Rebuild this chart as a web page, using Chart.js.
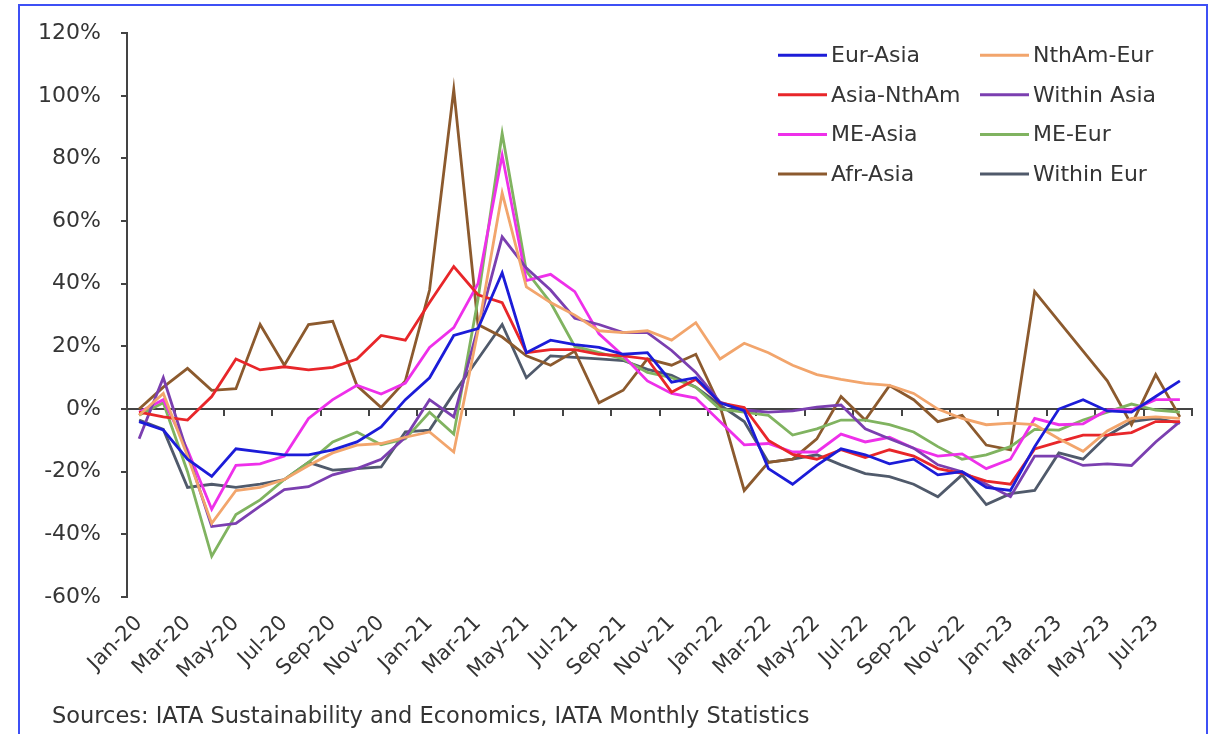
<!DOCTYPE html>
<html>
<head>
<meta charset="utf-8">
<script src="https://cdn.jsdelivr.net/npm/chart.js@4.4.1/dist/chart.umd.min.js"></script>
<style>
  html, body { margin: 0; padding: 0; background: #ffffff; }
  body { width: 1211px; height: 734px; position: relative; overflow: hidden; }
  #frame { position: absolute; left: 18px; top: 4px; width: 1190px; height: 760px; border: 2px solid #3e50f5; box-sizing: border-box; pointer-events: none; }
  #c { position: absolute; left: 0; top: 0; }
</style>
</head>
<body>
<canvas id="c" width="1211" height="734"></canvas>
<div id="frame"></div>
<script>
const months = ['Jan-20','Feb-20','Mar-20','Apr-20','May-20','Jun-20','Jul-20','Aug-20','Sep-20','Oct-20','Nov-20','Dec-20',
  'Jan-21','Feb-21','Mar-21','Apr-21','May-21','Jun-21','Jul-21','Aug-21','Sep-21','Oct-21','Nov-21','Dec-21',
  'Jan-22','Feb-22','Mar-22','Apr-22','May-22','Jun-22','Jul-22','Aug-22','Sep-22','Oct-22','Nov-22','Dec-22',
  'Jan-23','Feb-23','Mar-23','Apr-23','May-23','Jun-23','Jul-23','Aug-23'];

const seriesNames = ['Eur-Asia','NthAm-Eur','Asia-NthAm','Within Asia','ME-Asia','ME-Eur','Afr-Asia','Within Eur'];

const eurAsia = [-4, -6.7, -16, -21.5, -12.7, -13.7, -14.6, -14.6, -13, -10.5, -5.7, 3,
  10, 23.5, 25.7, 43.5, 18, 22, 20.6, 19.7, 17.5, 18, 8.6, 10,
  2, -0.5, -19, -24, -18, -12.7, -14.6, -17.5, -16, -21, -20, -25,
  -26, -12, 0, 3, -0.6, -1, 4, 9];
const nthAmEur = [-2, 5, -15, -36.5, -26, -25, -22.5, -18, -14, -11.5, -11, -9,
  -7.3, -13.7, 25, 69, 39, 34, 30, 25, 24.4, 25, 22, 27.6,
  16, 21, 18, 14, 11, 9.5, 8.2, 7.6, 5, 0, -3, -5,
  -4.5, -5, -9.5, -13.5, -7, -3, -2.5, -3];
const asiaNthAm = [-1, -2.5, -3.5, 4, 16, 12.5, 13.5, 12.5, 13.3, 16, 23.5, 22,
  34, 45.5, 36.5, 34, 18, 19, 19, 17.5, 17, 16, 5.4, 9.5,
  2, 0.5, -10, -14.5, -16, -13, -15.5, -13, -15, -19, -20.5, -23,
  -24, -12.7, -10.5, -8.3, -8.3, -7.5, -4, -4];
const withinAsia = [-9.5, 10, -14, -37.5, -36.5, -31, -25.7, -24.8, -21, -19, -16, -9,
  3, -2.5, 26, 55, 45, 38, 29, 27, 24.4, 24.4, 18.7, 11.7,
  2.2, -0.3, -1, -0.6, 0.6, 1.3, -6.3, -9.5, -12.5, -17.8, -20, -24,
  -28, -15, -15, -18, -17.5, -18, -10.5, -4];
const meAsia = [-1, 3, -13, -32, -18, -17.5, -15, -3, 3, 7.6, 4.8, 8.3,
  19.7, 26, 40, 81, 41, 43, 37.5, 24, 17, 9, 5, 3.5,
  -4, -11.4, -11, -13.7, -13.7, -8, -10.5, -9, -12.5, -15, -14.3, -19,
  -16, -3, -5, -4.7, -0.3, -0.3, 3, 3];
const meEur = [-2, 2, -20, -47, -33.7, -29, -22.5, -17, -10.5, -7.3, -11.4, -9.5,
  -1, -8, 35, 88, 44, 34, 20, 18, 16, 11.7, 10, 7,
  0, -1, -2, -8.3, -6.3, -3.5, -3.5, -5, -7.3, -12, -16, -14.6,
  -12, -6.5, -6.7, -3.5, -1, 1.6, -0.3, -1];
const afrAsia = [0, 7, 13, 6, 6.5, 27, 14, 27, 28, 7.5, 0.5, 9,
  38, 102, 27, 23, 17, 14, 18.5, 2, 6, 16, 14, 17.5,
  1, -26, -17, -16, -9.5, 4, -3.5, 7.5, 3, -4, -2, -11.5,
  -13, 37.5, 28, 18.5, 9, -5, 11, -2.5];
const withinEur = [-3.5, -6.5, -25, -24, -25, -24, -22.5, -17, -19.5, -19, -18.5, -7.3,
  -6.7, 5, 16, 27, 10, 17, 16.5, 16, 15.5, 12.7, 10.8, 7,
  1.3, -4, -17, -16, -14.6, -17.8, -20.6, -21.6, -24, -28, -21, -30.5,
  -27, -26, -14, -16, -8.5, -4, -3, -4.5];

const yTicks = [-60, -40, -20, 0, 20, 40, 60, 80, 100, 120];
const sourceText = 'Sources: IATA Sustainability and Economics, IATA Monthly Statistics';

const seriesValues = [eurAsia, nthAmEur, asiaNthAm, withinAsia, meAsia, meEur, afrAsia, withinEur];
const seriesColors = ['#1c1cd8', '#f2a56c', '#e8262a', '#7b3fb0', '#ee30ea', '#80b360', '#8c5a2e', '#505a6b'];

const FONT = "'DejaVu Sans', sans-serif";
const TXT = '#353535';
const AXIS = '#444444';

const legendPlugin = {
  id: 'twoColLegend',
  afterDraw(chart) {
    const ctx = chart.ctx;
    const area = chart.chartArea;
    const x0 = area.right - 414, colGap = 202;
    const y0 = area.top + 22, rowGap = 39.6;
    ctx.save();
    ctx.font = '22px ' + FONT;
    ctx.textBaseline = 'middle';
    ctx.textAlign = 'left';
    chart.data.datasets.forEach((ds, i) => {
      const col = i % 2, row = Math.floor(i / 2);
      const x = x0 + col * colGap, y = y0 + row * rowGap;
      ctx.strokeStyle = ds.borderColor;
      ctx.lineWidth = 3;
      ctx.beginPath();
      ctx.moveTo(x, y);
      ctx.lineTo(x + 49, y);
      ctx.stroke();
      ctx.fillStyle = TXT;
      ctx.fillText(ds.label, x + 53, y + 1);
    });
    // source note under the axis labels
    ctx.font = '22.5px ' + FONT;
    ctx.fillStyle = '#333333';
    ctx.fillText(sourceText, area.left - 75, chart.height - 17);
    ctx.restore();
  }
};

new Chart(document.getElementById('c'), {
  type: 'line',
  data: {
    labels: months,
    datasets: seriesNames.map((name, i) => ({
      label: name,
      data: seriesValues[i],
      borderColor: seriesColors[i],
      backgroundColor: seriesColors[i],
      borderWidth: 2.8,
      pointRadius: 0,
      tension: 0,
      fill: false,
      xAxisID: 'x'
    }))
  },
  options: {
    responsive: false,
    animation: false,
    devicePixelRatio: 1,
    layout: { padding: { left: 20, right: 19, top: 27, bottom: 0 } },
    plugins: {
      legend: { display: false },
      tooltip: { enabled: false }
    },
    scales: {
      x: {
        type: 'category',
        position: 'bottom',
        offset: true,
        grid: { display: false, drawTicks: false },
        border: { display: false },
        ticks: {
          autoSkip: false,
          maxRotation: 45,
          minRotation: 45,
          padding: 14,
          color: TXT,
          font: { family: FONT, size: 21 },
          callback: (v, i) => (i % 2 === 0 ? months[i] : null)
        },
        afterFit: (s) => { s.height = 137; }
      },
      x2: {
        type: 'category',
        position: { y: 0 },
        offset: true,
        grid: {
          offset: true,
          drawOnChartArea: false,
          drawTicks: true,
          tickLength: 6,
          lineWidth: 2,
          color: (c) => (c.index === undefined || c.index % 2 === 0) ? AXIS : 'rgba(0,0,0,0)'
        },
        border: { display: true, color: AXIS, width: 2 },
        ticks: { display: false }
      },
      y: {
        type: 'linear',
        position: 'left',
        min: -60,
        max: 120,
        afterBuildTicks: (s) => { s.ticks = yTicks.map(v => ({ value: v })); },
        grid: { drawOnChartArea: false, drawTicks: true, tickLength: 6, lineWidth: 2, color: AXIS },
        border: { display: true, color: AXIS, width: 2 },
        ticks: {
          padding: 20,
          color: TXT,
          font: { family: FONT, size: 22 },
          callback: (v) => v + '%'
        },
        afterFit: (s) => { s.width = 107; }
      }
    }
  },
  plugins: [legendPlugin]
});
</script>
</body>
</html>
